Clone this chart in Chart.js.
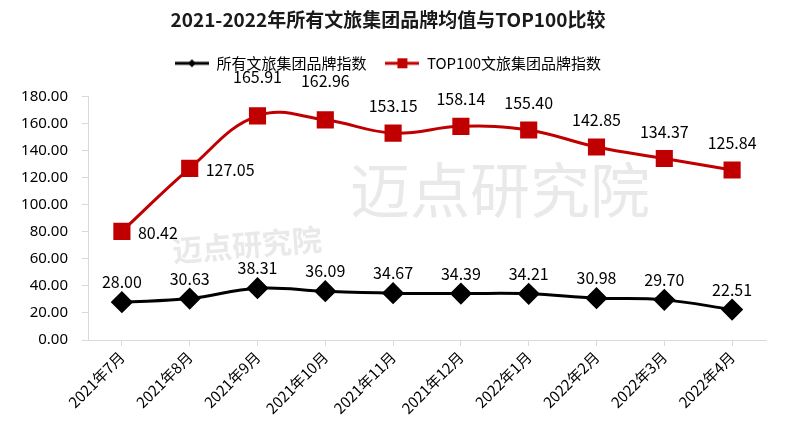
<!DOCTYPE html>
<html>
<head>
<meta charset="utf-8">
<script src="https://cdn.jsdelivr.net/npm/chart.js@4/dist/chart.umd.min.js"></script>
<style>
  html, body { margin: 0; padding: 0; background: #fff; }
  #wrap { width: 800px; height: 438px; }
</style>
</head>
<body>
<div id="wrap"><canvas id="chart"></canvas></div>
<script>
// 数据
const months = ["2021年7月", "2021年8月", "2021年9月", "2021年10月", "2021年11月",
    "2021年12月", "2022年1月", "2022年2月", "2022年3月", "2022年4月"];
const allBrand = [28.00, 30.63, 38.31, 36.09, 34.67, 34.39, 34.21, 30.98, 29.70, 22.51];
const top100Brand = [80.42, 127.05, 165.91, 162.96, 153.15, 158.14, 155.40, 142.85, 134.37, 125.84];

const FONT = "'Noto Sans CJK SC', 'Noto Sans', sans-serif";

// 图例小图标：线 + 标记
function legendIcon(color, marker) {
    const c = document.createElement("canvas");
    c.width = 34; c.height = 12;
    const g = c.getContext("2d");
    g.strokeStyle = color;
    g.lineWidth = 3;
    g.beginPath(); g.moveTo(0, 6); g.lineTo(34, 6); g.stroke();
    g.fillStyle = color;
    if (marker === "diamond") {
        g.beginPath(); g.moveTo(17, 2); g.lineTo(21, 6); g.lineTo(17, 10); g.lineTo(13, 6); g.closePath(); g.fill();
    } else {
        g.fillRect(12, 1, 10, 10);
    }
    return c;
}

// 数据标签 + 水印
const labelPlugin = {
    id: "labels",
    beforeLayout(chart) {
        // 图例下方多留一点空
        const lg = chart.legend;
        if (lg && !lg._patched) {
            const fit = lg.fit;
            lg.fit = function () { fit.call(this); this.height += 16; };
            lg._patched = true;
        }
    },
    beforeDatasetsDraw(chart) {
        const ctx = chart.ctx;
        ctx.save();
        ctx.fillStyle = "rgba(200,200,200,0.4)";
        ctx.textAlign = "center";
        ctx.textBaseline = "middle";
        ctx.font = "60px " + FONT;
        ctx.fillText("迈点研究院", 500, 190);
        ctx.translate(247, 245);
        ctx.rotate(-0.08);
        ctx.font = "bold 30px " + FONT;
        ctx.fillText("迈点研究院", 0, 0);
        ctx.restore();
    },
    afterDatasetsDraw(chart) {
        const ctx = chart.ctx;
        ctx.save();
        ctx.font = "16px " + FONT;
        ctx.fillStyle = "#000";
        ctx.textBaseline = "middle";
        chart.data.datasets.forEach((ds, i) => {
            const meta = chart.getDatasetMeta(i);
            meta.data.forEach((pt, j) => {
                const txt = ds.data[j].toFixed(2);
                if (i === 1 && j < 2) {
                    ctx.textAlign = "left";
                    ctx.fillText(txt, pt.x + 16, pt.y + 2);
                } else {
                    ctx.textAlign = "center";
                    let dy = i === 1 ? 27 : 20;
                    if (i === 1 && (j === 2 || j === 3)) dy = 39;
                    ctx.fillText(txt, pt.x, pt.y - dy);
                }
            });
        });
        ctx.restore();
    }
};

new Chart(document.getElementById("chart"), {
    type: "line",
    data: {
        labels: months,
        datasets: [{
                label: "所有文旅集团品牌指数",
                data: allBrand,
                borderColor: "#000",
                backgroundColor: "#000",
                borderWidth: 3,
                pointStyle: "rectRot",
                pointRadius: 9,
                pointHoverRadius: 9,
                tension: 0.4,
            },
            {
                label: "TOP100文旅集团品牌指数",
                data: top100Brand,
                borderColor: "#c00000",
                backgroundColor: "#c00000",
                borderWidth: 3,
                pointStyle: "rect",
                pointRadius: 10,
                pointHoverRadius: 10,
                tension: 0.4,
            },
        ],
    },
    options: {
        responsive: true,
        maintainAspectRatio: false,
        animation: false,
        layout: { padding: { left: 10, right: 34, top: 4, bottom: 4 } },
        plugins: {
            title: {
                display: true,
                text: "2021-2022年所有文旅集团品牌均值与TOP100比较",
                color: "#1a1a1a",
                font: { family: FONT, size: 19, weight: "bold" },
                padding: { top: 4, bottom: 6 },
            },
            legend: {
                position: "top",
                labels: {
                    color: "#000",
                    font: { family: FONT, size: 15 },
                    usePointStyle: true,
                    pointStyleWidth: 34,
                    padding: 19,
                    generateLabels(chart) {
                        return chart.data.datasets.map((ds, i) => ({
                            text: ds.label,
                            fillStyle: ds.borderColor,
                            strokeStyle: ds.borderColor,
                            lineWidth: 0,
                            pointStyle: legendIcon(ds.borderColor, i === 0 ? "diamond" : "square"),
                            datasetIndex: i,
                            fontColor: "#000",
                        }));
                    },
                },
            },
            tooltip: { enabled: false },
        },
        scales: {
            x: {
                offset: true,
                grid: { drawOnChartArea: false, color: "#d9d9d9", tickLength: 6 },
                border: { color: "#d9d9d9", width: 1 },
                afterFit(scale) { scale.height = 94; },
                ticks: {
                    color: "#000",
                    font: { family: FONT, size: 15 },
                    maxRotation: 45,
                    minRotation: 45,
                    padding: 2,
                },
            },
            y: {
                min: 0,
                max: 180,
                grid: { drawOnChartArea: false, color: "#d9d9d9", tickLength: 6 },
                border: { color: "#d9d9d9", width: 1 },
                afterFit(scale) { scale.width = 78; },
                ticks: {
                    stepSize: 20,
                    color: "#000",
                    font: { family: "'Noto Sans', sans-serif", size: 15 },
                    padding: 14,
                    callback: (v) => v.toFixed(2),
                },
            },
        },
    },
    plugins: [labelPlugin],
});
</script>
</body>
</html>
